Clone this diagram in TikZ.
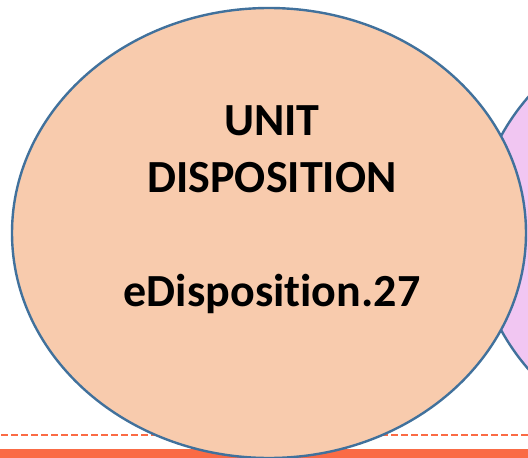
\documentclass[tikz,border=0pt]{standalone}
\usepackage{fontspec}
\setmainfont{Carlito}[Ligatures=NoCommon]
\usetikzlibrary{shapes.geometric}

\definecolor{unitfill}{HTML}{F8CBAD}
\definecolor{unitedge}{HTML}{41719C}
\definecolor{nextfill}{HTML}{F1C6F2}
\definecolor{barred}{HTML}{FA6B45}

\tikzset{
  bubble/.style={ellipse, draw=unitedge, line width=2.4pt,
    minimum width=514pt, minimum height=450pt, inner sep=0pt},
  title/.style={font=\bfseries\fontsize{46}{57}\selectfont, align=center,
    inner sep=0pt}
}

\begin{document}
\begin{tikzpicture}[x=1pt,y=-1pt]
\useasboundingbox (0,0) rectangle (528,458);
% bottom rule: dashed line and solid bar
\coordinate (dashL) at (1,435);
\coordinate (dashR) at (528,435);
\draw[barred, line width=2.4pt, dash pattern=on 7pt off 3pt] (dashL) -- (dashR);
\fill[barred] (0,449) rectangle (528,458);
% next bubble, mostly off the page
\node[bubble, fill=nextfill] (next) at (733,233) {};
% main bubble
\node[bubble, fill=unitfill] (unit) at (269,233) {};
\node[title, anchor=base] (label) at (272,306)
  {UNIT\\DISPOSITION\\[57pt]eDisposition.27};
\end{tikzpicture}
\end{document}
